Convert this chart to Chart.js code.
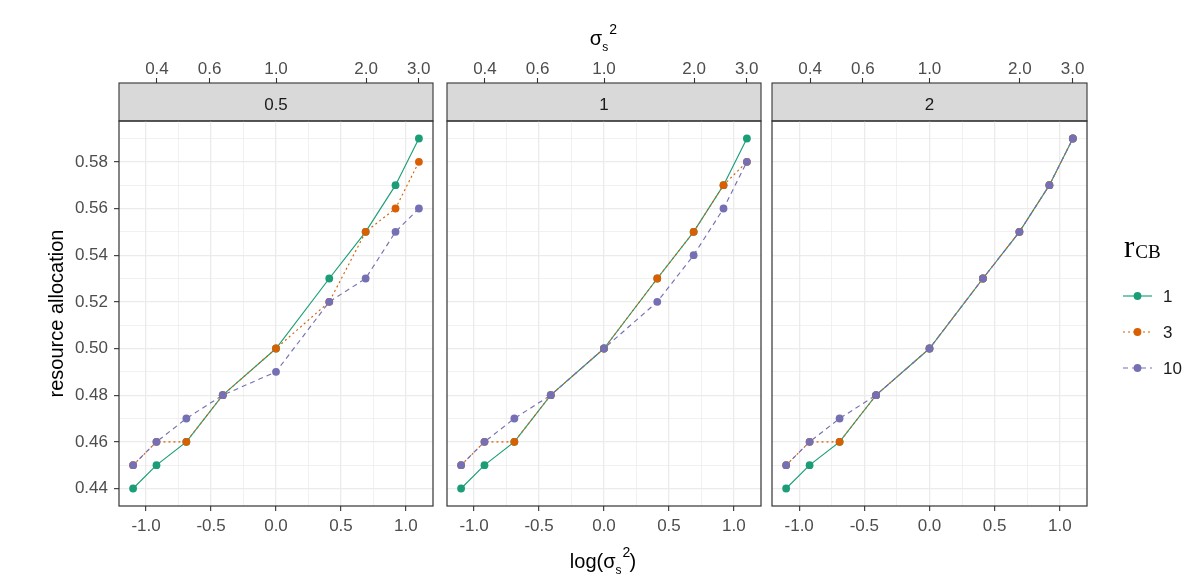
<!DOCTYPE html>
<html>
<head>
<meta charset="utf-8">
<script src="https://cdn.jsdelivr.net/npm/chart.js@4.4.1/dist/chart.umd.min.js"></script>
<style>
html,body{margin:0;padding:0;background:#fff;}
#wrap{position:relative;width:1204px;height:583px;overflow:hidden;font-family:"Liberation Sans",Arial,Helvetica,sans-serif;background:#fff;}
.box{position:absolute;top:0;height:583px;}
.ttl{position:absolute;left:0;width:1206px;text-align:center;font-size:20px;line-height:20px;color:#000;white-space:nowrap;}
.stk{display:inline-block;position:relative;width:14px;height:20px;vertical-align:baseline;}
.stk .sp{position:absolute;left:7px;top:-3px;font-size:14px;line-height:14px;}
.stk .sb{position:absolute;left:0px;top:16px;font-size:12px;line-height:12px;}
</style>
</head>
<body>
<div id="wrap">
  <div class="box" style="left:0;width:440px"><canvas id="pA"></canvas></div>
  <div class="box" style="left:440px;width:328px"><canvas id="pB"></canvas></div>
  <div class="box" style="left:765px;width:439px"><canvas id="pC"></canvas></div>
  <div class="ttl" style="top:25px">σ<span class="stk"><span class="sb">s</span><span class="sp">2</span></span></div>
  <div class="ttl" style="top:548px">log(σ<span class="stk"><span class="sb">s</span><span class="sp">2</span></span>)</div>
</div>
<script>
// ---------------- data ----------------
const panels = ['0.5', '1', '2'];
const groups = ['1', '3', '10'];
const xLog = [-1.10, -0.92, -0.69, -0.41, 0.00, 0.41, 0.69, 0.92, 1.10];

const p05_r1  = [0.44, 0.45, 0.46, 0.48, 0.50, 0.53, 0.55, 0.57, 0.59];
const p05_r3  = [0.45, 0.46, 0.46, 0.48, 0.50, 0.52, 0.55, 0.56, 0.58];
const p05_r10 = [0.45, 0.46, 0.47, 0.48, 0.49, 0.52, 0.53, 0.55, 0.56];

const p1_r1  = [0.44, 0.45, 0.46, 0.48, 0.50, 0.53, 0.55, 0.57, 0.59];
const p1_r3  = [0.45, 0.46, 0.46, 0.48, 0.50, 0.53, 0.55, 0.57, 0.58];
const p1_r10 = [0.45, 0.46, 0.47, 0.48, 0.50, 0.52, 0.54, 0.56, 0.58];

const p2_r1  = [0.44, 0.45, 0.46, 0.48, 0.50, 0.53, 0.55, 0.57, 0.59];
const p2_r3  = [0.45, 0.46, 0.46, 0.48, 0.50, 0.53, 0.55, 0.57, 0.59];
const p2_r10 = [0.45, 0.46, 0.47, 0.48, 0.50, 0.53, 0.55, 0.57, 0.59];

const xMajor = [-1.0, -0.5, 0.0, 0.5, 1.0];
const xMajorLabels = ['-1.0', '-0.5', '0.0', '0.5', '1.0'];
const xMinor = [-0.75, -0.25, 0.25, 0.75];
const yMajor = [0.44, 0.46, 0.48, 0.50, 0.52, 0.54, 0.56, 0.58];
const yMajorLabels = ['0.44', '0.46', '0.48', '0.50', '0.52', '0.54', '0.56', '0.58'];
const yMinor = [0.45, 0.47, 0.49, 0.51, 0.53, 0.55, 0.57, 0.59];
const topTickValues = [0.4, 0.6, 1.0, 2.0, 3.0];
const topTickLabels = ['0.4', '0.6', '1.0', '2.0', '3.0'];
const xLimits = [-1.2085, 1.2085];
const yLimits = [0.4325, 0.5975];

// ---------------- styles ----------------
const FONT = '"Liberation Sans", Arial, Helvetica, sans-serif';
Chart.defaults.font.family = FONT;
const colors = ['#1B9E77', '#D95F02', '#7570B3'];
const dashes = [[], [2, 3], [5, 4]];
const GRID = '#EBEBEB', DARK = '#333333', TICKTXT = '#4D4D4D';

const near = (a, b) => Math.abs(a - b) < 1e-6;
const isIn = (v, arr) => arr.some(m => near(m, v));
const labelOf = (v, vals, labels) => { const i = vals.findIndex(m => near(m, v)); return i < 0 ? '' : labels[i]; };
const xAll = xMajor.concat(xMinor).sort((a, b) => a - b);
const yAll = yMajor.concat(yMinor).sort((a, b) => a - b);
const topPos = topTickValues.map(v => Math.log(v));

function makeDatasets(series) {
  const ds = [];
  series.forEach((vals, i) => {
    ds.push({
      label: groups[i], data: xLog.map((x, j) => ({x: x, y: vals[j]})),
      showLine: true, borderColor: colors[i], backgroundColor: colors[i],
      borderWidth: 1.15, borderDash: dashes[i], pointRadius: 0, tension: 0, order: 5 - i
    });
  });
  series.forEach((vals, i) => {
    ds.push({
      label: groups[i] + ' points', data: xLog.map((x, j) => ({x: x, y: vals[j]})),
      showLine: false, pointRadius: 3.9, pointBorderWidth: 0,
      pointBackgroundColor: colors[i], borderColor: colors[i], order: 2 - i
    });
  });
  return ds;
}

const panelDeco = {
  id: 'panelDeco',
  beforeDraw(chart) {
    const s = chart.scales.strip, ctx = chart.ctx;
    ctx.save();
    ctx.fillStyle = '#D9D9D9';
    ctx.fillRect(s.left, s.top, s.right - s.left, s.bottom - s.top);
    ctx.strokeStyle = DARK; ctx.lineWidth = 1.1;
    ctx.strokeRect(s.left, s.top, s.right - s.left, s.bottom - s.top);
    ctx.restore();
  },
  afterDatasetsDraw(chart) {
    const a = chart.chartArea, ctx = chart.ctx;
    ctx.save();
    ctx.strokeStyle = DARK; ctx.lineWidth = 1.2;
    ctx.strokeRect(a.left, a.top, a.right - a.left, a.bottom - a.top);
    ctx.restore();
  }
};

const legendDeco = {
  id: 'legendDeco',
  afterDraw(chart) {
    const ctx = chart.ctx;
    const ox = 765;
    ctx.save();
    ctx.fillStyle = '#000';
    ctx.textBaseline = 'alphabetic';
    ctx.textAlign = 'left';
    ctx.font = '31px "Liberation Serif", "DejaVu Serif", serif';
    ctx.fillText('r', 1124 - ox, 257);
    const rw = ctx.measureText('r').width;
    ctx.font = '19px "Liberation Serif", "DejaVu Serif", serif';
    ctx.fillText('CB', 1124 - ox + rw + 1, 258);
    const ys = [296, 332, 368];
    groups.forEach((g, i) => {
      const y = ys[i];
      ctx.strokeStyle = colors[i]; ctx.lineWidth = 1.15;
      ctx.setLineDash(dashes[i]);
      ctx.beginPath(); ctx.moveTo(1123 - ox, y); ctx.lineTo(1152 - ox, y); ctx.stroke();
      ctx.setLineDash([]);
      ctx.fillStyle = colors[i];
      ctx.beginPath(); ctx.arc(1137.5 - ox, y, 3.9, 0, Math.PI * 2); ctx.fill();
      ctx.fillStyle = '#1A1A1A';
      ctx.font = '17px ' + FONT;
      ctx.textBaseline = 'middle';
      ctx.fillText(g, 1163 - ox, y + 1);
    });
    ctx.restore();
  }
};

function makeChart(id, series, stripText, cfg) {
  const plugins = [panelDeco];
  if (cfg.legend) plugins.push(legendDeco);
  return new Chart(document.getElementById(id), {
    type: 'scatter',
    data: {datasets: makeDatasets(series)},
    options: {
      responsive: true, maintainAspectRatio: false, animation: false, events: [],
      layout: {padding: {left: cfg.padL, right: cfg.padR, top: 0, bottom: 0}},
      plugins: {legend: {display: false}, tooltip: {enabled: false}},
      scales: {
        x: {
          type: 'linear', position: 'bottom', min: xLimits[0], max: xLimits[1],
          afterBuildTicks: s => { s.ticks = xAll.map(v => ({value: v})); },
          afterFit: s => { s.height = 77; },
          ticks: {autoSkip: false, maxRotation: 0, color: TICKTXT, font: {size: 17}, padding: 5,
                  callback: v => labelOf(v, xMajor, xMajorLabels)},
          grid: {color: GRID, lineWidth: c => isIn(c.tick.value, xMajor) ? 1.3 : 0.7,
                 tickColor: c => isIn(c.tick.value, xMajor) ? DARK : 'rgba(0,0,0,0)',
                 tickLength: 5, tickWidth: 1.1},
          border: {display: false}
        },
        xTop: {
          type: 'linear', position: 'top', weight: 10, min: xLimits[0], max: xLimits[1],
          afterBuildTicks: s => { s.ticks = topPos.map(v => ({value: v})); },
          afterFit: s => { s.height = 83; },
          ticks: {autoSkip: false, maxRotation: 0, color: TICKTXT, font: {size: 17}, padding: -2,
                  callback: (v, i) => topTickLabels[i]},
          grid: {drawOnChartArea: false, tickColor: DARK, tickLength: 5, tickWidth: 1.1},
          border: {display: false}
        },
        strip: {
          type: 'linear', position: 'top', weight: 5, display: true,
          afterFit: s => { s.height = 38; },
          ticks: {display: false}, grid: {display: false}, border: {display: false},
          title: {display: true, text: stripText, color: '#1A1A1A', font: {size: 17}, padding: {top: 12, bottom: 0}}
        },
        y: {
          type: 'linear', position: 'left', min: yLimits[0], max: yLimits[1],
          afterBuildTicks: s => { s.ticks = yAll.map(v => ({value: v})); },
          afterFit: s => { s.width = cfg.yWidth; },
          ticks: {display: cfg.showY, autoSkip: false, color: TICKTXT, font: {size: 17}, padding: 6,
                  callback: v => labelOf(v, yMajor, yMajorLabels)},
          grid: {color: GRID, lineWidth: c => isIn(c.tick.value, yMajor) ? 1.3 : 0.7,
                 drawTicks: cfg.showY,
                 tickColor: c => isIn(c.tick.value, yMajor) ? DARK : 'rgba(0,0,0,0)',
                 tickLength: 5, tickWidth: 1.1},
          border: {display: false},
          title: {display: cfg.showY, text: 'resource allocation', color: '#000', font: {size: 20}, padding: {top: 45, bottom: 0}}
        }
      }
    },
    plugins: plugins
  });
}

makeChart('pA', [p05_r1, p05_r3, p05_r10], panels[0], {padL: 0, padR: 7, yWidth: 119, showY: true, legend: false});
makeChart('pB', [p1_r1, p1_r3, p1_r10], panels[1], {padL: 7, padR: 7, yWidth: 0, showY: false, legend: false});
makeChart('pC', [p2_r1, p2_r3, p2_r10], panels[2], {padL: 7, padR: 117, yWidth: 0, showY: false, legend: true});
</script>
</body>
</html>
